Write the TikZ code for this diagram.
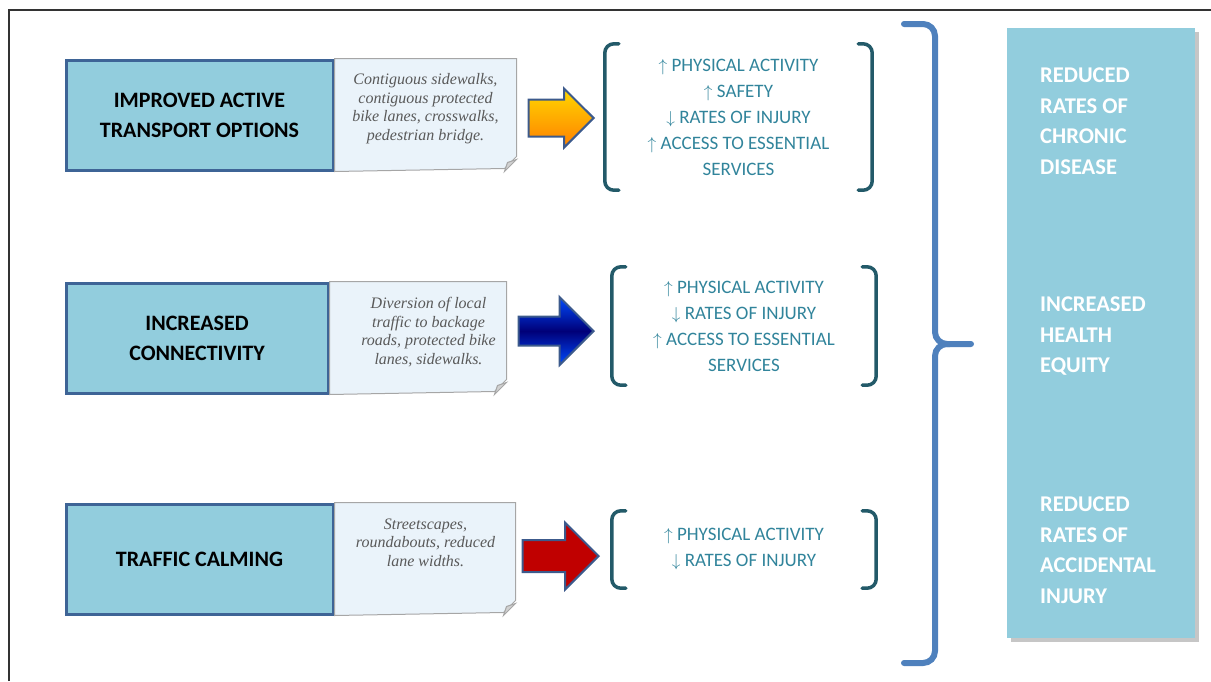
\documentclass[tikz,border=0pt]{standalone}
\usepackage{fontspec}
\setmainfont{Carlito}
\newfontfamily\notefont{Liberation Serif}
\usetikzlibrary{positioning,shapes.arrows,shadows}

\definecolor{boxblue}{RGB}{146,205,221}
\definecolor{boxedge}{RGB}{62,100,150}
\definecolor{paperfill}{RGB}{234,243,250}
\definecolor{paperedge}{RGB}{166,166,166}
\definecolor{effecttext}{RGB}{49,132,155}
\definecolor{bracketcol}{RGB}{35,90,105}
\definecolor{bracecol}{RGB}{79,129,189}
\definecolor{arrowedge}{RGB}{60,90,140}
\definecolor{goldtop}{RGB}{255,215,0}
\definecolor{orangebot}{RGB}{255,128,0}
\definecolor{bluelight}{RGB}{0,75,255}
\definecolor{bluedark}{RGB}{0,0,120}
\definecolor{darkred}{RGB}{192,0,0}

\begin{document}
\begin{tikzpicture}[x=1pt, y=-1pt, driver/.style={
% The shape:
rectangle, minimum height=110pt,
% The fill and border:
fill=boxblue, draw=boxedge, line width=3pt,
% The text:
align=center, font=\bfseries\fontsize{22}{30}\selectfont
}, paper/.style={fill=paperfill, draw=paperedge, line width=1pt},
note/.style={inner sep=0pt, align=center, text=black!65, font=\notefont\itshape\fontsize{16}{18.5}\selectfont},
effect/.style={inner sep=0pt, align=center, text=effecttext, font=\fontsize{19}{26}\selectfont},
bracket/.style={draw=bracketcol, line width=3.5pt, line cap=round, rounded corners=9pt},
push/.style={single arrow, single arrow tip angle=90, inner xsep=0pt, draw=arrowedge, line width=2pt, anchor=tip},
outcome/.style={fill=boxblue, minimum width=188pt, minimum height=610pt, drop shadow={shadow xshift=4pt, shadow yshift=-4pt, opacity=0.45}},
result/.style={inner sep=0pt, align=left, text=white, anchor=north west, font=\bfseries\fontsize{22.5}{30.5}\selectfont}]

\useasboundingbox (0,0) rectangle (1211,681);
\draw[line width=1.5pt, draw=black!80] (9,681) -- (9,10) -- (1211,10);

% the three measures
\node (IATO) [driver, minimum width=267pt] at (199.5,115) {IMPROVED ACTIVE\\TRANSPORT OPTIONS};
\node (INC) [driver, minimum width=262pt] at (197,338) {INCREASED\\CONNECTIVITY};
\node (TC) [driver, minimum width=267pt] at (199.5,559) {TRAFFIC CALMING};

% notes stuck to the right of each measure
\path[paper] (IATO.north east) -- ++(182,0) -- ++(0,98) -- ++(-12,12) -- (IATO.south east) -- cycle;
\path[paper, fill=black!18] ([xshift=170pt]IATO.south east) -- ++(3,-9) -- ++(9,-3) -- cycle;
\node (N1) [note, anchor=north] at ([xshift=91pt, yshift=-15pt]IATO.north east) {Contiguous sidewalks,\\contiguous protected\\bike lanes, crosswalks,\\pedestrian bridge.};

\path[paper] (INC.north east) -- ++(177,0) -- ++(0,98) -- ++(-12,12) -- (INC.south east) -- cycle;
\path[paper, fill=black!18] ([xshift=165pt]INC.south east) -- ++(3,-9) -- ++(9,-3) -- cycle;
\node (N2) [note, anchor=north] at ([xshift=99pt, yshift=-16pt]INC.north east) {Diversion of local\\traffic to backage\\roads, protected bike\\lanes, sidewalks.};

\path[paper] (TC.north east) -- ++(181,0) -- ++(0,98) -- ++(-12,12) -- (TC.south east) -- cycle;
\path[paper, fill=black!18] ([xshift=169pt]TC.south east) -- ++(3,-9) -- ++(9,-3) -- cycle;
\node (N3) [note, anchor=north] at ([xshift=91pt, yshift=-16pt]TC.north east) {Streetscapes,\\roundabouts, reduced\\lane widths.};

% arrows
\node (A1) [push, minimum height=65pt, inner ysep=17.5pt, single arrow head extend=11pt, top color=goldtop, bottom color=orangebot] at (595,118) {};
\node (A2) [push, minimum height=75pt, inner ysep=13.5pt, single arrow head extend=19.5pt, top color=bluelight, bottom color=bluelight, middle color=bluedark] at (595,331) {};
\node (A3) [push, minimum height=76pt, inner ysep=15pt, single arrow head extend=17.5pt, fill=darkred] at (600,556) {};

% effects between brackets
\node (E1) [effect, minimum width=267pt, minimum height=146pt] at (738.5,117) {$\uparrow$~PHYSICAL ACTIVITY\\$\uparrow$~SAFETY\\$\downarrow$~RATES OF INJURY\\$\uparrow$~ACCESS TO ESSENTIAL\\SERVICES};
\node (E2) [effect, minimum width=264pt, minimum height=118pt] at (744,326) {$\uparrow$~PHYSICAL ACTIVITY\\$\downarrow$~RATES OF INJURY\\$\uparrow$~ACCESS TO ESSENTIAL\\SERVICES};
\node (E3) [effect, minimum width=264pt, minimum height=77pt] at (744,549.5) {$\uparrow$~PHYSICAL ACTIVITY\\$\downarrow$~RATES OF INJURY};

\foreach \e in {E1,E2,E3} {
	\draw[bracket] ([xshift=14pt]\e.north west) -- (\e.north west) -- (\e.south west) -- ([xshift=14pt]\e.south west);
	\draw[bracket] ([xshift=-14pt]\e.north east) -- (\e.north east) -- (\e.south east) -- ([xshift=-14pt]\e.south east);
}

% outcomes
\node (Out) [outcome] at (1101,333) {};
\node (O1) [result] at (1040,68) {REDUCED\\RATES OF\\CHRONIC\\DISEASE};
\node (O2) [result] at (1040,297) {INCREASED\\HEALTH\\EQUITY};
\node (O3) [result] at (1040,497) {REDUCED\\RATES OF\\ACCIDENTAL\\INJURY};

% big brace
\coordinate (braceTop) at (904,24);
\coordinate (braceTip) at (971,344);
\coordinate (braceBot) at (904,663);
\draw[draw=bracecol, line width=6pt, line cap=round, rounded corners=12pt] (braceTop) -- (935,24) -- (935,344) -- (braceTip);
\draw[draw=bracecol, line width=6pt, line cap=round, rounded corners=12pt] (950,344) -- (935,344) -- (935,663) -- (braceBot);
\end{tikzpicture}
\end{document}
